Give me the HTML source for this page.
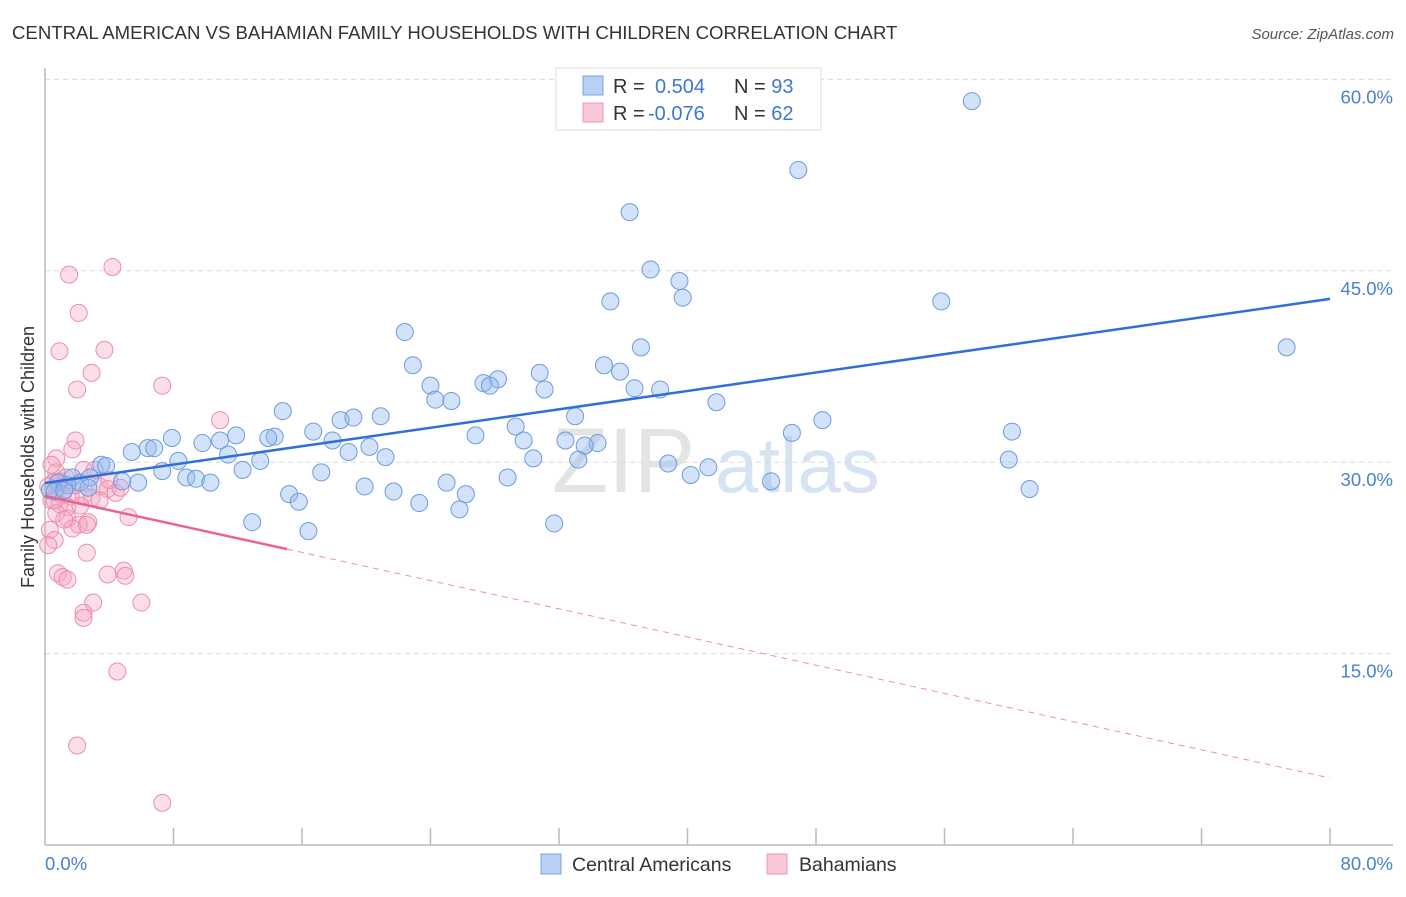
<!DOCTYPE html>
<html><head><meta charset="utf-8"><style>
body{margin:0;background:#fff;font-family:"Liberation Sans",sans-serif;}
svg text{font-family:"Liberation Sans",sans-serif;}
</style></head><body>
<svg id="chart" width="1406" height="892">
<text x="12" y="39" font-size="18.6" fill="#333">CENTRAL AMERICAN VS BAHAMIAN FAMILY HOUSEHOLDS WITH CHILDREN CORRELATION CHART</text>
<text x="1394" y="39" font-size="15" fill="#555" font-style="italic" text-anchor="end">Source: ZipAtlas.com</text>
<g><text x="552" y="492" font-size="92" fill="#e4e4e4" font-family="Liberation Serif">ZIP</text><text x="715" y="492" font-size="78" fill="#d6e3f3">atlas</text></g>
<g id="grid"></g><g id="axes"></g><g id="pts"></g><g id="trend"></g>
<text transform="translate(34,457) rotate(-90)" font-size="18" fill="#333" text-anchor="middle">Family Households with Children</text>
<g>
<rect x="556" y="68" width="265" height="62" fill="#fff" stroke="#ddd"/>
<rect x="583" y="76" width="20" height="19" fill="#b7d0f3" stroke="#7aa3e0"/>
<rect x="583" y="103" width="20" height="19" fill="#f9c6d5" stroke="#e99ab2"/>
<text x="613" y="93" font-size="20" fill="#333">R = <tspan x="655" fill="#3d78d6">0.504</tspan><tspan x="734">N = </tspan><tspan fill="#3d78d6">93</tspan></text>
<text x="613" y="120" font-size="20" fill="#333">R = <tspan x="648" fill="#3d78d6">-0.076</tspan><tspan x="734">N = </tspan><tspan fill="#3d78d6">62</tspan></text>
</g>
<g>
<rect x="541" y="854" width="20" height="20" fill="#b7d0f3" stroke="#7aa3e0"/>
<text x="572" y="871" font-size="19.5" fill="#333">Central Americans</text>
<rect x="767" y="854" width="20" height="20" fill="#f9c6d5" stroke="#e99ab2"/>
<text x="799" y="871" font-size="19.5" fill="#333">Bahamians</text>
</g>
</svg>
<script>
const yTicks=[15,30,45,60];
const xTickLabels=["0.0%","80.0%"];
const blueX=[57.7,46.9,36.4,37.7,39.5,39.7,35.2,55.8,77.3,22.4,37.1,22.9,34.8,35.8,24.0,30.8,27.3,28.2,27.7,31.1,36.7,38.3,24.3,25.3,41.8,14.8,33.0,18.4,19.2,20.9,48.4,16.7,29.3,11.9,14.3,13.9,17.9,26.8,29.8,32.4,34.4,33.6,46.5,60.2,7.9,9.8,10.9,6.4,6.8,5.4,11.4,18.9,20.2,21.2,13.4,8.3,33.2,30.4,38.8,41.3,60.0,3.5,3.8,7.3,12.3,17.2,40.2,28.8,8.8,9.4,10.3,5.8,4.8,1.7,2.2,2.8,1.4,0.8,0.3,0.6,19.9,25.0,21.7,45.2,61.3,15.2,26.2,15.8,23.3,25.8,12.9,16.4,31.7,2.7,1.2];
const blueY=[58.3,52.9,49.6,45.1,44.2,42.9,42.6,42.6,39.0,40.2,39.0,37.6,37.6,37.1,36.0,37.0,36.2,36.5,36.0,35.7,35.8,35.7,34.9,34.8,34.7,34.0,33.6,33.3,33.5,33.6,33.3,32.4,32.8,32.1,32.0,31.9,31.7,32.1,31.7,31.7,31.5,31.3,32.3,32.4,31.9,31.5,31.7,31.1,31.1,30.8,30.6,30.8,31.2,30.4,30.1,30.1,30.2,30.3,29.9,29.6,30.2,29.8,29.7,29.3,29.4,29.2,29.0,28.8,28.8,28.7,28.4,28.4,28.5,28.8,28.4,28.8,28.2,28.4,27.8,27.7,28.1,28.4,27.7,28.5,27.9,27.5,27.5,26.9,26.8,26.3,25.3,24.6,25.2,28.0,27.8];
const pinkX=[4.2,1.5,2.1,0.9,3.7,2.9,2.0,7.3,10.9,1.9,1.7,0.7,2.4,0.7,1.3,0.5,0.9,0.2,3.4,3.9,4.4,4.7,1.1,1.6,2.4,0.4,0.9,1.4,2.9,0.7,1.4,5.2,2.7,2.1,1.7,2.6,0.3,0.6,0.2,2.6,0.8,1.1,1.4,3.9,4.9,5.0,3.0,6.0,2.4,2.4,4.5,2.0,7.3,0.6,1.9,2.2,3.1,1.2,4.0,3.4,0.4];
const pinkY=[45.3,44.7,41.7,38.7,38.8,37.0,35.7,36.0,33.3,31.7,31.0,30.3,29.4,29.2,28.8,28.4,28.5,28.1,28.1,27.9,27.6,28.0,27.4,27.3,27.4,27.0,26.7,26.5,27.2,26.0,25.6,25.7,25.3,25.1,24.8,25.1,24.7,23.9,23.5,22.9,21.3,21.0,20.8,21.2,21.5,21.1,19.0,19.0,18.2,17.8,13.6,7.8,3.3,27.0,28.2,26.6,29.4,25.5,28.6,27.0,29.8];
const blueTrend=[28.37,42.8];
const pinkTrend=[27.35,5.25];
const pinkSolidEnd=15.07;
const NS="http://www.w3.org/2000/svg";
const X0=45,X1=1330,Y0=845,YS=12.76;
function sx(v){return X0+(X1-X0)*v/80;}
function sy(v){return Y0-v*YS;}
function mk(tag,attrs,parent){const e=document.createElementNS(NS,tag);for(const k in attrs)e.setAttribute(k,attrs[k]);document.getElementById(parent).appendChild(e);return e;}
yTicks.forEach(t=>{
  const l=mk('line',{x1:X0,x2:1393,y1:sy(t),y2:sy(t),stroke:'#dcdcdc','stroke-dasharray':'5,4'},'grid');
  
  
  const tx=mk('text',{x:1393,y:sy(t)+24,'font-size':18.5,fill:'#4a7fd6','text-anchor':'end'},'grid');
  tx.textContent=t.toFixed(1)+'%';
  
  
});
const ya=mk('line',{x1:X0,x2:X0,y1:68,y2:Y0,stroke:'#bbb','stroke-width':1.5},'axes');


const xa=mk('line',{x1:X0,x2:1393,y1:Y0,y2:Y0,stroke:'#bbb','stroke-width':1.5},'axes');


for(let v=8;v<=80;v+=8){
  const tk=mk('line',{x1:sx(v),x2:sx(v),y1:828,y2:Y0,stroke:'#bbb','stroke-width':1.5},'axes');
  
  
}
[[0,'start',45],[80,'end',1393]].forEach((d,i)=>{
  const t=mk('text',{x:d[2],y:870,'font-size':18.5,fill:'#4a7fd6','text-anchor':d[1]},'axes');
  t.textContent=xTickLabels[i];
  
  
});
pinkX.forEach((x,i)=>{
  const c=mk('circle',{cx:sx(x),cy:sy(pinkY[i]),r:8.5,fill:'rgba(246,168,194,0.38)',stroke:'#e98fae','stroke-width':1},'pts');
  
  
});
blueX.forEach((x,i)=>{
  const c=mk('circle',{cx:sx(x),cy:sy(blueY[i]),r:8.5,fill:'rgba(148,186,238,0.42)',stroke:'#6c9ce2','stroke-width':1},'pts');
  
  
});
const bt=mk('line',{x1:sx(0),y1:sy(blueTrend[0]),x2:sx(80),y2:sy(blueTrend[1]),stroke:'#2f6fd6','stroke-width':2.5},'trend');


const pe=pinkTrend[0]+(pinkTrend[1]-pinkTrend[0])*pinkSolidEnd/80;
const ps=mk('line',{x1:sx(0),y1:sy(pinkTrend[0]),x2:sx(pinkSolidEnd),y2:sy(pe),stroke:'#e8648f','stroke-width':2.5},'trend');


const pd=mk('line',{x1:sx(pinkSolidEnd),y1:sy(pe),x2:sx(80),y2:sy(pinkTrend[1]),stroke:'#ee8fae','stroke-width':1,'stroke-dasharray':'6,5'},'trend');


</script>
</body></html>
